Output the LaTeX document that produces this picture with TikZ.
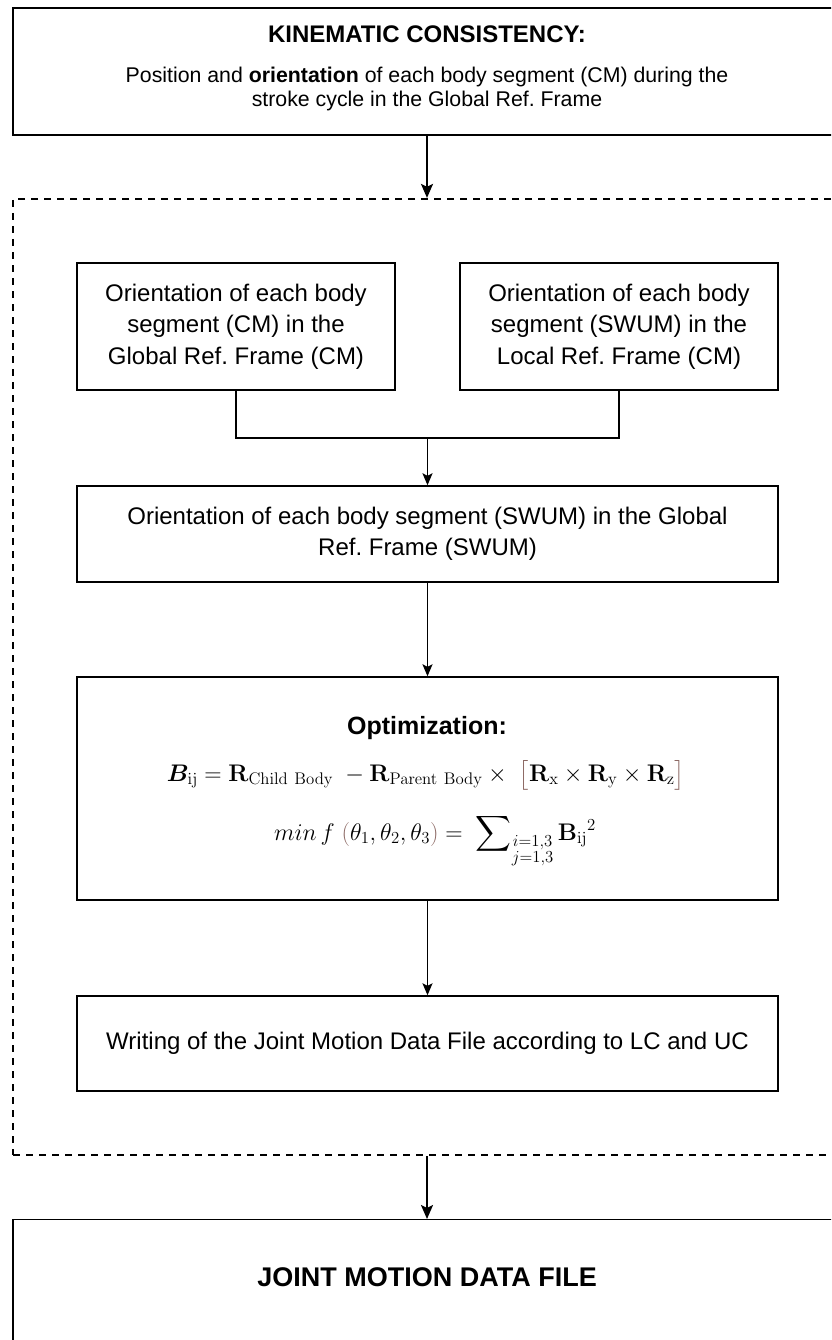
\RequirePackage{fix-cm}
\documentclass[tikz,border=0pt]{standalone}
\usepackage{amsmath,bm}
\usepackage[no-math]{fontspec}
\setmainfont{Liberation Sans}
\usetikzlibrary{arrows.meta}
\definecolor{brk}{RGB}{140,105,100}
\frenchspacing
\begin{document}
\begin{tikzpicture}[x=1pt,y=-1pt,
  box/.style={draw=black, line width=1.4pt, inner sep=0pt, align=center},
  framebox/.style={draw=black, line width=2.2pt, dash pattern=on 7pt off 6pt, inner sep=0pt},
  smallarrow/.style={line width=1.4pt, -{Stealth[length=12pt,width=10pt,inset=2.5pt]}},
  bigarrow/.style={line width=2.2pt, -{Stealth[length=14pt,width=12pt,inset=3pt]}},
  txt/.style={font=\fontsize{24}{31.5}\selectfont, align=center},
  plain/.style={inner sep=0pt, align=center},
]
\path (0,0) rectangle (831,1340);
\clip (0,0) rectangle (831,1340);

% top box
\node[box, minimum width=828pt, minimum height=127pt] (kc) at (427,71.5) {};
\node[plain, font=\bfseries\fontsize{24}{28}\selectfont] (kct) at (427,34) {KINEMATIC CONSISTENCY:};
\node[plain, font=\fontsize{21.3}{24}\selectfont] (kcb) at (427,89) {Position and \textbf{orientation} of each body segment (CM) during the\\stroke cycle in the Global Ref. Frame};

% dashed frame
\node[framebox, minimum width=828pt, minimum height=956pt] (frame) at (427,677) {};

% inner boxes
\node[box, txt, minimum width=318pt, minimum height=127pt] (segcm) at (236,326.5) {Orientation of each body\\segment (CM) in the\\Global Ref. Frame (CM)};
\node[box, txt, minimum width=318pt, minimum height=127pt] (segloc) at (619,326.5) {Orientation of each body\\segment (SWUM) in the\\Local Ref. Frame (CM)};
\node[box, txt, minimum width=701pt, minimum height=96pt] (segswum) at (427.5,534) {Orientation of each body segment (SWUM) in the Global\\Ref. Frame (SWUM)};
\node[box, minimum width=701pt, minimum height=223pt] (optim) at (427.5,788.5) {};
\node[plain, font=\bfseries\fontsize{25}{30}\selectfont] (optt) at (427,728) {Optimization:};
\node[plain, font=\fontsize{24}{28}\selectfont] (eqa) at (426,775) {$\bm{B}_{\mathrm{ij}} = \mathbf{R}_{\mathrm{Child\ Body}}\ - \mathbf{R}_{\mathrm{Parent\ Body}} \times\ {\color{brk}\big[}\mathbf{R}_{\mathrm{x}} \times \mathbf{R}_{\mathrm{y}} \times \mathbf{R}_{\mathrm{z}}{\color{brk}\big]}$};
\node[plain, font=\fontsize{24}{28}\selectfont] (eqb) at (435,840) {$min\,f\ {\color{brk}(}\theta_1,\theta_2,\theta_3{\color{brk})} =\ \displaystyle\sum\nolimits_{\substack{i=1,3\\ j=1,3}} {\mathbf{B}_{\mathrm{ij}}}^{2}$};
\node[box, txt, minimum width=701pt, minimum height=95pt] (writing) at (427.5,1043.5) {Writing of the Joint Motion Data File according to LC and UC};

% bottom box
\node[box, minimum width=828pt, minimum height=160pt, anchor=north] (jmdf) at (427,1219) {};
\node[plain, font=\bfseries\fontsize{27}{31}\selectfont] (jmdft) at (427,1277) {JOINT MOTION DATA FILE};

% connectors
\coordinate (join) at (427.5,438);
\draw[bigarrow] (kc.south) -- (frame.north);
\draw[line width=1.4pt] (segcm.south) |- (join) -| (segloc.south);
\draw[smallarrow] (join) -- (segswum.north);
\draw[smallarrow] (segswum.south) -- (optim.north);
\draw[smallarrow] (optim.south) -- (writing.north);
\draw[bigarrow] (frame.south) -- (jmdf.north);
\end{tikzpicture}
\end{document}
